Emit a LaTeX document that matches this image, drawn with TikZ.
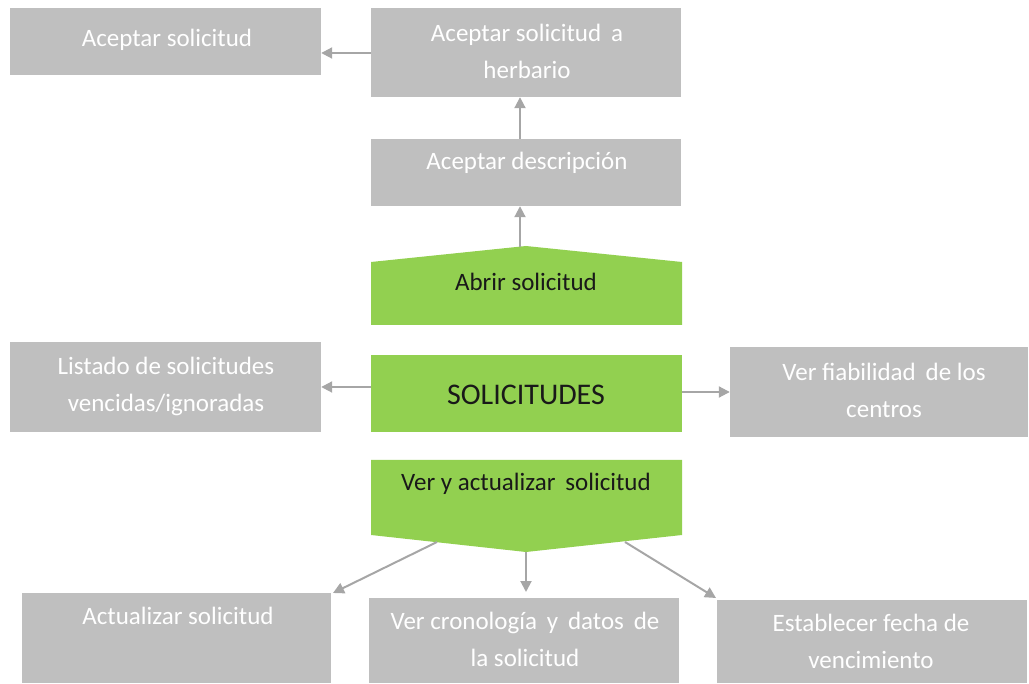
\documentclass[tikz,border=0pt]{standalone}
\usepackage{fontspec}
\setmainfont{Carlito}
\usetikzlibrary{arrows.meta}
\definecolor{boxgray}{HTML}{BFBFBF}
\definecolor{boxgreen}{HTML}{92D050}
\definecolor{linegray}{HTML}{A6A6A6}
\tikzset{
  graybox/.style={fill=boxgray, draw=none, inner sep=0pt},
  gtext/.style={text=white, align=center, inner sep=0pt, font=\fontsize{25}{37}\selectfont},
  ktext/.style={text=black!90, align=center, inner sep=0pt, font=\fontsize{25}{37}\selectfont},
  conn/.style={draw=linegray, line width=2pt, -{Triangle[length=11pt,width=11pt]}, shorten >=0pt}
}
\begin{document}
\begin{tikzpicture}[x=1pt,y=-1pt]
\useasboundingbox (0,0) rectangle (1029,684);
% gray boxes
\node[graybox, minimum width=311pt, minimum height=67pt] (a1) at (165.5,41.5) {};
\node[graybox, minimum width=310pt, minimum height=89pt] (a2) at (526,52.5) {};
\node[graybox, minimum width=310pt, minimum height=67pt] (ad) at (526,172.5) {};
\node[graybox, minimum width=311pt, minimum height=90pt] (li) at (165.5,387) {};
\node[graybox, minimum width=298pt, minimum height=90pt] (vf) at (879,392.5) {};
\node[graybox, minimum width=309pt, minimum height=90pt] (as) at (176.5,638) {};
\node[graybox, minimum width=310pt, minimum height=85pt] (vc) at (524,640.5) {};
\node[graybox, minimum width=310pt, minimum height=83pt] (ef) at (872,641.5) {};
% green boxes
\fill[boxgreen] (371,262) -- (526,246) -- (682,262) -- (682,325) -- (371,325) -- cycle;
\coordinate (abtop) at (520,246.6);
\node[fill=boxgreen, inner sep=0pt, minimum width=311pt, minimum height=77pt] (sol) at (526.5,393.5) {};
\fill[boxgreen] (371,460) -- (682,460) -- (682,535) -- (526,552) -- (371,535) -- cycle;
\coordinate (vl) at (437,542);
\coordinate (vm) at (526,552);
\coordinate (vr) at (625,542);
% texts
\node[gtext] at (167,40) {Aceptar solicitud};
\node[gtext] at (527,51.5) {Aceptar solicitud\, a\\herbario};
\node[gtext] at (527,163) {Aceptar descripción};
\node[ktext] (abt) at (526,282) {Abrir solicitud};
\node[ktext, font=\fontsize{30}{36}\selectfont] at (526,395) {SOLICITUDES};
\node[gtext] at (166,386) {Listado de solicitudes\\vencidas/ignoradas};
\node[gtext] at (884,390) {Ver fiabilidad\, de los\\centros};
\node[ktext] (vat) at (526,484) {Ver y actualizar\, solicitud};
\node[gtext] at (178,616) {Actualizar solicitud};
\node[gtext] at (525,639) {Ver cronología\, y\, datos\, de\\la solicitud};
\node[gtext] at (871,641) {Establecer fecha de\\vencimiento};
% connectors
\draw[conn] (a2.west |- 0,53) -- (a1.east |- 0,53);
\draw[conn] (ad.north -| 520,0) -- (a2.south -| 520,0);
\draw[conn] (abtop) -- (ad.south -| 520,0);
\draw[conn] (sol.west |- 0,387) -- (li.east |- 0,387);
\draw[conn] (sol.east |- 0,392) -- (vf.west |- 0,392);
\draw[conn] (vl) -- (333,593);
\draw[conn] (vm) -- (526,592);
\draw[conn] (vr) -- (716,598);
\end{tikzpicture}
\end{document}
